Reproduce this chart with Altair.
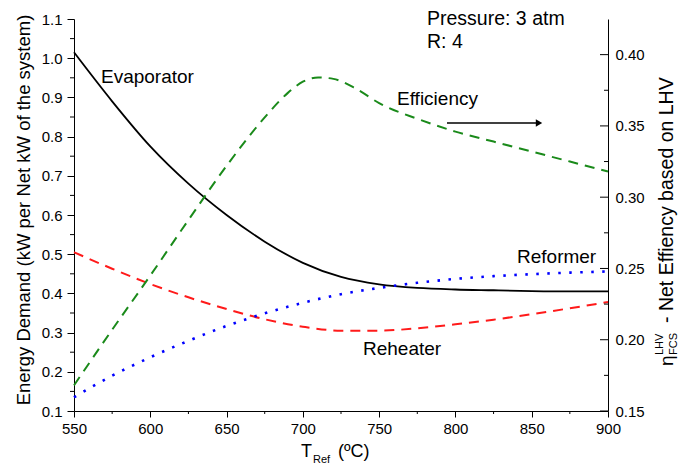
import altair as alt
import pandas as pd

FONT = "Liberation Sans"

# ---- data ----
T = [550, 575, 600, 625, 650, 675, 700, 725, 750, 775, 800, 825, 850, 875, 900]
evaporator = [1.015, 0.89, 0.775, 0.68, 0.6, 0.532, 0.478, 0.442, 0.423, 0.414, 0.41, 0.408, 0.406, 0.405, 0.405]
reheater = [0.505, 0.463, 0.424, 0.39, 0.36, 0.334, 0.315, 0.305, 0.305, 0.311, 0.321, 0.333, 0.347, 0.362, 0.378]
reformer = [0.135, 0.19, 0.237, 0.279, 0.317, 0.349, 0.376, 0.398, 0.414, 0.427, 0.437, 0.444, 0.449, 0.453, 0.456]

T_eff = [550, 575, 600, 625, 650, 675, 690, 700, 710, 720, 735, 750, 775, 800, 825, 850, 875, 900]
efficiency = [0.168, 0.207, 0.245, 0.284, 0.322, 0.356, 0.373, 0.381, 0.384, 0.383, 0.376, 0.366,
              0.355, 0.346, 0.339, 0.332, 0.325, 0.318]

x_major = [550, 600, 650, 700, 750, 800, 850, 900]
x_minor = [575, 625, 675, 725, 775, 825, 875]
yl_major = [0.1, 0.2, 0.3, 0.4, 0.5, 0.6, 0.7, 0.8, 0.9, 1.0, 1.1]
yl_minor = [0.15, 0.25, 0.35, 0.45, 0.55, 0.65, 0.75, 0.85, 0.95, 1.05]
yr_major = [0.15, 0.20, 0.25, 0.30, 0.35, 0.40]
yr_minor = [0.175, 0.225, 0.275, 0.325, 0.375]

W, H = 534, 392

xscale = alt.Scale(domain=[550, 900], nice=False, zero=False)
lscale = alt.Scale(domain=[0.1, 1.1], nice=False, zero=False)
rscale = alt.Scale(domain=[0.15, 0.425], nice=False, zero=False)

xaxis = alt.Axis(values=x_major, format="d", tickSize=6, labelPadding=4, title=None, grid=False,
                 labelFontSize=15, labelFont=FONT, labelColor="black", domainColor="black",
                 tickColor="black", labelFlush=False, orient="bottom")
laxis = alt.Axis(values=yl_major, format=".1f", tickSize=7, labelPadding=5, title=None, grid=False,
                 labelFontSize=15, labelFont=FONT, labelColor="black", domainColor="black",
                 tickColor="black", orient="left", labelFlush=False)
raxis = alt.Axis(values=yr_major, format=".2f", ticks=False, labelPadding=7, title=None, grid=False,
                 labelFontSize=15, labelFont=FONT, labelColor="black", domainColor="black",
                 orient="right", labelFlush=False)

X = alt.X("T:Q", scale=xscale, axis=xaxis)


def series_line(vals, color, width, dash=None, axis=laxis, scale=lscale, t=T):
    df = pd.DataFrame({"T": t, "v": vals})
    kw = dict(color=color, strokeWidth=width, interpolate="monotone")
    if dash is not None:
        kw["strokeDash"] = dash
        kw["strokeCap"] = "butt"
    return alt.Chart(df).mark_line(**kw).encode(
        x=X,
        y=alt.Y("v:Q", scale=scale, axis=axis),
    )


evap = series_line(evaporator, "black", 1.8)
reh = series_line(reheater, "#ff1a1a", 2, dash=[10, 7])
ref = series_line(reformer, "#0000ff", 2.6, dash=[2.5, 8.5])

lminor = alt.Chart(pd.DataFrame({"v": yl_minor})).mark_rule(color="black", strokeWidth=1).encode(
    y=alt.Y("v:Q", scale=lscale, axis=laxis), x=alt.value(-4), x2=alt.value(0))

left_group = alt.layer(evap, reh, ref, lminor)

eff = series_line(efficiency, "#1a8a1a", 2, dash=[10, 7], axis=raxis, scale=rscale, t=T_eff)
rmajor = alt.Chart(pd.DataFrame({"v": yr_major})).mark_rule(color="black", strokeWidth=1).encode(
    y=alt.Y("v:Q", scale=rscale, axis=raxis), x=alt.value(W - 8), x2=alt.value(W))
rminor = alt.Chart(pd.DataFrame({"v": yr_minor})).mark_rule(color="black", strokeWidth=1).encode(
    y=alt.Y("v:Q", scale=rscale, axis=raxis), x=alt.value(W - 4), x2=alt.value(W))
right_group = alt.layer(eff, rmajor, rminor)

xminor = alt.Chart(pd.DataFrame({"T": x_minor})).mark_rule(color="black", strokeWidth=1).encode(
    x=X, y=alt.value(H), y2=alt.value(H + 3))


def txt(s, x, y, size=19, angle=0, align="left", baseline="alphabetic"):
    return alt.Chart(pd.DataFrame({"s": [s]})).mark_text(
        align=align, baseline=baseline, fontSize=size, font=FONT, angle=angle, color="black"
    ).encode(x=alt.value(x), y=alt.value(y), text="s:N")


texts = [
    txt("Pressure: 3 atm", 353, 6, size=19.5),
    txt("R: 4", 353, 29, size=19.5),
    txt("Evaporator", 27, 64),
    txt("Efficiency", 323, 86),
    txt("Reformer", 443, 244),
    txt("Reheater", 289, 336),
    # axis titles
    txt("Energy Demand (kW per Net kW of the system)", -44, 191, size=18.5, angle=270, align="center"),
    txt("T", 227, 438, size=18),
    txt("Ref", 239, 444, size=11),
    txt("(ºC)", 264, 438, size=18),
    txt("η", 599, 347, size=19, angle=270),
    txt("FCS", 603, 336, size=11, angle=270),
    txt("LHV", 589, 336, size=11, angle=270),
    txt("- Net Effiency based on LHV", 599, 304, size=19.5, angle=270),
]

arrow_line = alt.Chart(pd.DataFrame({"a": [0]})).mark_rule(color="black", strokeWidth=1.3).encode(
    x=alt.value(373), x2=alt.value(462), y=alt.value(104))
arrow_head = alt.Chart(pd.DataFrame({"a": [0]})).mark_point(
    shape="triangle-right", filled=True, size=55, color="black", opacity=1).encode(
    x=alt.value(465), y=alt.value(104))

chart = alt.layer(left_group, right_group, xminor, *texts, arrow_line, arrow_head).resolve_scale(
    y="independent"
).properties(
    width=W, height=H,
    padding={"left": 74, "top": 19, "right": 86, "bottom": 61},
    autosize=alt.AutoSizeParams(type="none"),
).configure_view(stroke=None)

chart.save("out.html", embed_options={"renderer": "svg", "actions": False})
